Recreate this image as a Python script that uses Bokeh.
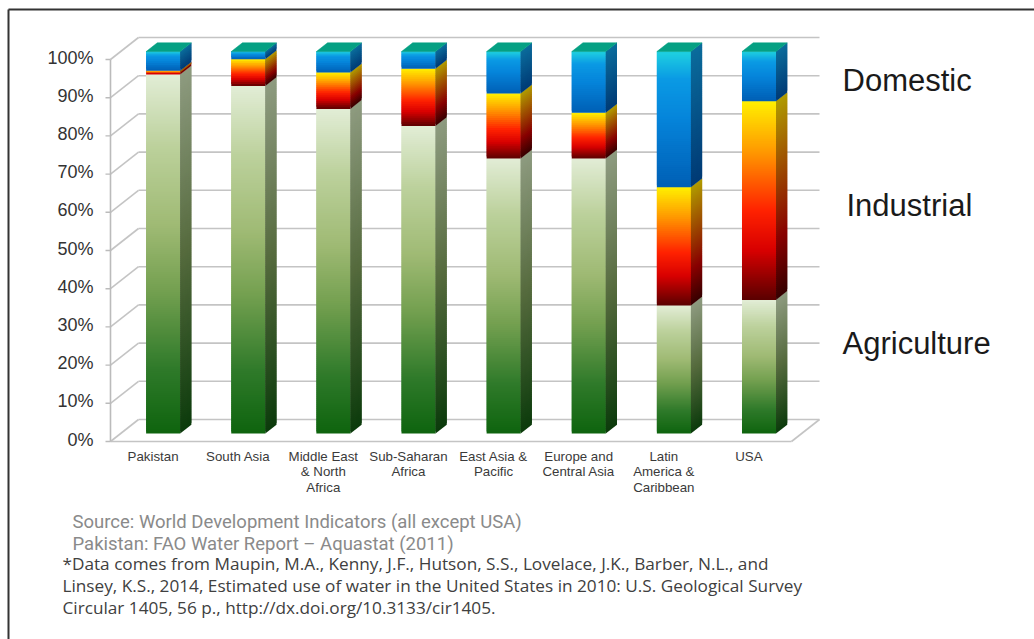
from bokeh.plotting import figure
from bokeh.models import Range1d
from bokeh.core.properties import value
from bokeh.embed import file_html
from bokeh.resources import INLINE

# ---------------- data ----------------
categories = ["Pakistan", "South Asia", "Middle East\n& North\nAfrica", "Sub-Saharan\nAfrica",
              "East Asia &\nPacific", "Europe and\nCentral Asia", "Latin\nAmerica &\nCaribbean", "USA"]
agriculture = [94, 91, 85, 80.5, 72, 72, 33.5, 35]
industrial = [1, 7, 9.5, 15, 17, 12, 31, 52]
domestic = [5, 2, 5.5, 4.5, 11, 16, 35.5, 13]
series_names = ["Agriculture", "Industrial", "Domestic"]
y_ticks = [0, 10, 20, 30, 40, 50, 60, 70, 80, 90, 100]
y_tick_labels = [f"{t}%" for t in y_ticks]
source_lines = ["Source:  World Development Indicators (all except USA)",
                "Pakistan: FAO  Water Report \u2013 Aquastat (2011)"]
note_lines = ["*Data comes from Maupin, M.A., Kenny, J.F., Hutson, S.S., Lovelace, J.K., Barber, N.L., and",
              "Linsey, K.S., 2014, Estimated use of water in the United States in 2010: U.S. Geological Survey",
              "Circular 1405, 56 p., http://dx.doi.org/10.3133/cir1405."]

# ---------------- geometry / style ----------------
W, H = 1034, 639
PX_X = 85.125      # pixels per category slot
PX_Y = 3.82        # pixels per percent
LEFT_PX, FLOOR_PX = 110, 441
DX = 28 / PX_X     # depth of the wall (category units)
DY = 22 / PX_Y     # depth of the wall (percent units)
F0, FD = 0.36, 0.40   # bar front depth fraction and bar depth fraction
BW = 0.40          # bar width in slot units
SLICE_PX = 2.0     # approximate pixel height of one gradient slice


def xd(px):
    return (px - LEFT_PX) / PX_X


def yd(py):
    return (FLOOR_PX - py) / PX_Y


def hex2rgb(h):
    h = h.lstrip("#")
    return tuple(int(h[i:i + 2], 16) for i in (0, 2, 4))


def grad(stops, t):
    for (p0, c0), (p1, c1) in zip(stops[:-1], stops[1:]):
        if t <= p1:
            u = (t - p0) / (p1 - p0) if p1 > p0 else 0
            a, b = hex2rgb(c0), hex2rgb(c1)
            return "#%02x%02x%02x" % tuple(int(round(a[k] + (b[k] - a[k]) * u)) for k in range(3))
    return stops[-1][1]


front_stops = {
    "Agriculture": [(0, "#0e640e"), (0.18, "#2f7a2a"), (0.4, "#74a050"), (0.58, "#9fba74"),
                    (0.8, "#bcd19c"), (1, "#e2edd6")],
    "Industrial": [(0, "#5a0000"), (0.25, "#d80000"), (0.45, "#ff2200"), (0.75, "#ff9a00"), (1, "#fff000")],
    "Domestic": [(0, "#005fb5"), (0.5, "#0584da"), (0.8, "#0a9ae4"), (1, "#1fd2e0")],
}
side_stops = {
    "Agriculture": [(0, "#0c3b0c"), (0.5, "#566b3e"), (1, "#8e9b80")],
    "Industrial": [(0, "#360000"), (0.3, "#880000"), (0.7, "#a05800"), (1, "#b09c00")],
    "Domestic": [(0, "#003a75"), (1, "#0b6c9c")],
}
TOP_COLOR = "#05a083"
GRID = "#c4c4c4"

p = figure(width=W, height=H, output_backend="svg", toolbar_location=None,
           x_axis_location=None, y_axis_location=None, min_border=0,
           x_range=Range1d(xd(0), xd(W)), y_range=Range1d(yd(H), yd(0)))
p.grid.visible = False
p.outline_line_color = None
p.background_fill_color = "white"
p.border_fill_color = "white"

# ---------------- 3D walls ----------------
n = len(categories)
p.segment(x0=[DX] * len(y_ticks), y0=[t + DY for t in y_ticks], x1=[n + DX] * len(y_ticks),
          y1=[t + DY for t in y_ticks], line_color=GRID, line_width=1.6)
p.segment(x0=[0] * len(y_ticks), y0=y_ticks, x1=[DX] * len(y_ticks),
          y1=[t + DY for t in y_ticks], line_color=GRID, line_width=1.6)
p.segment(x0=[0, n], y0=[0, 0], x1=[n, n + DX], y1=[0, DY], line_color=GRID, line_width=1.6)
p.segment(x0=[0], y0=[0], x1=[0], y1=[100], line_color="#bbbbbb", line_width=1.6)
p.segment(x0=[0] * len(y_ticks), y0=y_ticks, x1=[-5 / PX_X] * len(y_ticks), y1=y_ticks,
          line_color="#bbbbbb", line_width=1.4)

# ---------------- bars (gradient built from overlapping slices) ----------------
series_vals = {"Agriculture": agriculture, "Industrial": industrial, "Domestic": domestic}
ql, qr, qb, qt, qc = [], [], [], [], []
sxs, sys_, sc = [], [], []
txs, tys = [], []
for i in range(n):
    xl = i + 0.5 - BW / 2 + F0 * DX
    xr = xl + BW
    ddx, ddy = FD * DX, FD * DY
    base = 0.0
    for s in series_names:
        v = series_vals[s][i]
        y0 = base + F0 * DY
        y1 = base + v + F0 * DY
        ns = max(2, int(round(v * PX_Y / SLICE_PX)))
        h = (y1 - y0) / ns
        for k in range(ns):
            ya = y0 + h * k
            yb = min(y1, y0 + h * (k + 2))
            t = (k + 0.5) / ns
            ql.append(xl); qr.append(xr); qb.append(ya); qt.append(yb)
            qc.append(grad(front_stops[s], t))
            sxs.append([xr, xr + ddx, xr + ddx, xr])
            sys_.append([ya, ya + ddy, yb + ddy, yb])
            sc.append(grad(side_stops[s], t))
        base += v
    ytop = base + F0 * DY
    txs.append([xl, xr, xr + ddx, xl + ddx])
    tys.append([ytop, ytop, ytop + ddy, ytop + ddy])

p.quad(left=ql, right=qr, bottom=qb, top=qt, fill_color=qc, line_color=None)
p.patches(xs=sxs, ys=sys_, fill_color=sc, line_color=None)
p.patches(xs=txs, ys=tys, fill_color=TOP_COLOR, line_color=TOP_COLOR, line_width=0.5)

# ---------------- tick labels ----------------
p.text(x=[0] * len(y_ticks), y=y_ticks, text=y_tick_labels, x_offset=-17, y_offset=-2,
       text_align="right", text_baseline="middle", text_font=value("Liberation Sans"),
       text_font_size="18px", text_color="#333333")
p.text(x=[i + 0.5 for i in range(n)], y=[0] * n, text=categories, y_offset=7,
       text_align="center", text_baseline="top", text_font=value("Liberation Sans"),
       text_font_size="13.3px", text_color="#3a3a3a", text_line_height=1.05)

# ---------------- series labels on the right ----------------
p.text(x=[xd(842), xd(846), xd(842)], y=[yd(80), yd(205), yd(343)],
       text=["Domestic", "Industrial", "Agriculture"], text_align="left", text_baseline="middle",
       text_font=value("Liberation Sans"), text_font_size="31px", text_color="#1a1a1a")

# ---------------- source notes ----------------
p.text(x=[xd(72)] * 2, y=[yd(521), yd(543)], text=source_lines, text_align="left",
       text_baseline="middle", text_font=value("Roboto"), text_font_size="18.5px",
       text_color="#8a8a8a")
p.text(x=[xd(62)] * 3, y=[yd(563), yd(585), yd(607)], text=note_lines, text_align="left",
       text_baseline="middle", text_font=value("Open Sans"), text_font_size="17.2px",
       text_color="#404040")

# ---------------- frame border ----------------
p.segment(x0=[xd(8), xd(8)], y0=[yd(9), yd(9)], x1=[xd(W), xd(8)], y1=[yd(9), yd(H)],
          line_color="#333333", line_width=2)

open("out.html", "w").write(file_html(p, INLINE))
